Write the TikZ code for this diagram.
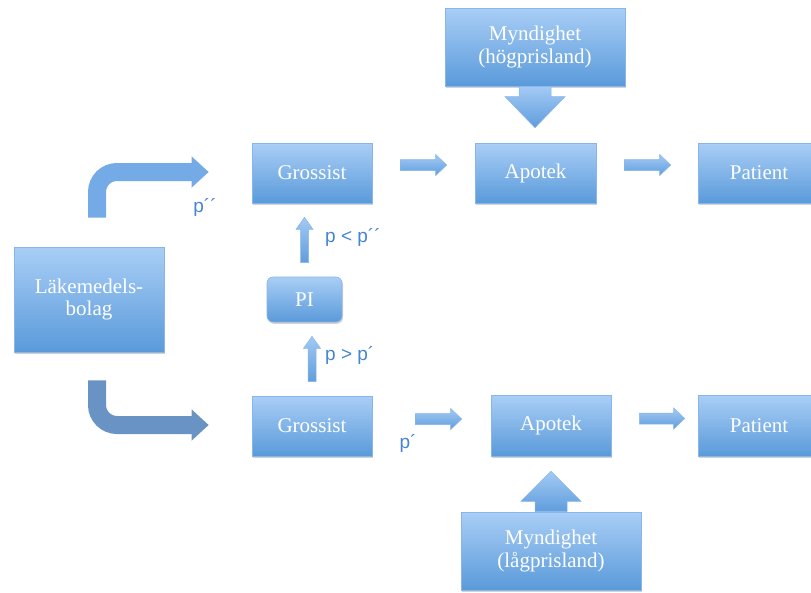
\documentclass[tikz,border=0pt]{standalone}
\usepackage{fontspec}
\setmainfont{Liberation Serif}
\newfontfamily\lblfont{Liberation Sans}
\usetikzlibrary{calc,shadows,arrows.meta}
\definecolor{boxtop}{HTML}{A9CEF6}
\definecolor{boxbot}{HTML}{5A9ADA}
\definecolor{boxline}{HTML}{86B6EA}
\definecolor{lblc}{HTML}{4585D3}
\definecolor{arrtop}{HTML}{A3CAF4}
\definecolor{arrbot}{HTML}{5F9DDC}
\definecolor{curvA}{HTML}{74AAE6}
\definecolor{curvB}{HTML}{6893C4}
\tikzset{
  box/.style={rectangle, top color=boxtop, bottom color=boxbot, draw=boxline,
    line width=0.6pt, text=white, font=\fontsize{21}{22.5}\selectfont, align=center,
    inner sep=2pt,
    drop shadow={shadow xshift=1pt, shadow yshift=-1.8pt, opacity=0.35}},
  lbl/.style={text=lblc, font=\lblfont\fontsize{19}{21}\selectfont, inner sep=0pt},
  arrfill/.style={top color=arrtop, bottom color=arrbot, draw=boxline, line width=0.5pt},
  harrow/.style n args={3}{to path={let \p1=(\tikztostart), \p2=(\tikztotarget) in
    (\x1,\y1-#1) -- (\x2-#3,\y1-#1) -- (\x2-#3,\y1-#2) -- (\x2,\y1)
    -- (\x2-#3,\y1+#2) -- (\x2-#3,\y1+#1) -- (\x1,\y1+#1) -- cycle}},
  uarrow/.style n args={3}{to path={let \p1=(\tikztostart), \p2=(\tikztotarget) in
    (\x1-#1,\y1) -- (\x1-#1,\y2-#3) -- (\x1-#2,\y2-#3) -- (\x1,\y2)
    -- (\x1+#2,\y2-#3) -- (\x1+#1,\y2-#3) -- (\x1+#1,\y1) -- cycle}},
  darrow/.style n args={3}{to path={let \p1=(\tikztostart), \p2=(\tikztotarget) in
    (\x1-#1,\y1) -- (\x1-#1,\y2+#3) -- (\x1-#2,\y2+#3) -- (\x1,\y2)
    -- (\x1+#2,\y2+#3) -- (\x1+#1,\y2+#3) -- (\x1+#1,\y1) -- cycle}},
  curv/.style={line width=18pt, rounded corners=20pt, draw=#1,
    -{Triangle[width=30pt,length=17pt]}},
}
\begin{document}
\begin{tikzpicture}[x=1pt,y=-1pt]
\useasboundingbox (0,0) rectangle (811,592);
% nodes
\node[box, minimum width=180pt, minimum height=78pt] (m1) at (535,47) {Myndighet\\(högprisland)};
\node[box, minimum width=121pt, minimum height=60pt] (a1) at (535.5,173) {Apotek};
\node[box, minimum width=122pt, minimum height=60pt] (p1) at (759,173) {Patient};
\node[box, minimum width=120pt, minimum height=60pt] (g1) at (312,173) {Grossist};
\node[box, minimum width=150pt, minimum height=105pt] (lak) at (89,299.5) {Läkemedels-\\bolag};
\node[box, minimum width=75pt, minimum height=45pt, rounded corners=6pt] (pi) at (304.5,299.5) {PI};
\node[box, minimum width=120pt, minimum height=60pt] (g2) at (312,426) {Grossist};
\node[box, minimum width=120pt, minimum height=61pt] (a2) at (551,425.5) {Apotek};
\node[box, minimum width=122pt, minimum height=61pt] (p2) at (759,425.5) {Patient};
\node[box, minimum width=180pt, minimum height=78pt] (m2) at (551,551) {Myndighet\\(lågprisland)};
% labels
\node[lbl] (l1) at (205,207) {p´´};
\node[lbl, anchor=west] (l2) at (325,237) {p < p´´};
\node[lbl, anchor=west] (l3) at (325,355) {p > p´};
\node[lbl] (l4) at (408,443) {p´};
% horizontal arrows
\path[arrfill] ([shift={(28,-8)}]g1.east) to[harrow={5.5pt}{10.5pt}{11pt}] ([shift={(-28,-8)}]a1.west);
\path[arrfill] ([shift={(28,-8)}]a1.east) to[harrow={5.5pt}{10.5pt}{11pt}] ([shift={(-27,-8)}]p1.west);
\path[arrfill] ([shift={(43,-7)}]g2.east) to[harrow={5.5pt}{10.5pt}{11pt}] ([shift={(-29,-7)}]a2.west);
\path[arrfill] ([shift={(28,-7)}]a2.east) to[harrow={5.5pt}{10.5pt}{11pt}] ([shift={(-13,-7)}]p2.west);
% vertical small arrows
\path[arrfill] ([shift={(0,-14)}]pi.north) to[uarrow={4pt}{8.5pt}{12pt}] ([shift={(0,14)}]g1.south);
\path[arrfill] ([shift={(0,-14)}]g2.north) to[uarrow={4pt}{8.5pt}{12pt}] ([shift={(0,14)}]pi.south);
% big arrows from authorities
\path[arrfill] (m1.south) to[darrow={16pt}{30pt}{31pt}] ([shift={(0,-15)}]a1.north);
\path[arrfill] (m2.north) to[uarrow={16pt}{30pt}{30pt}] ([shift={(0,15)}]a2.south);
% curved arrows
\draw[curv=curvA] ([shift={(8,-29)}]lak.north) |- ([shift={(-43,-1)}]g1.west);
\draw[curv=curvB] ([shift={(8,28)}]lak.south) |- ([shift={(-43,-1)}]g2.west);
\end{tikzpicture}
\end{document}
